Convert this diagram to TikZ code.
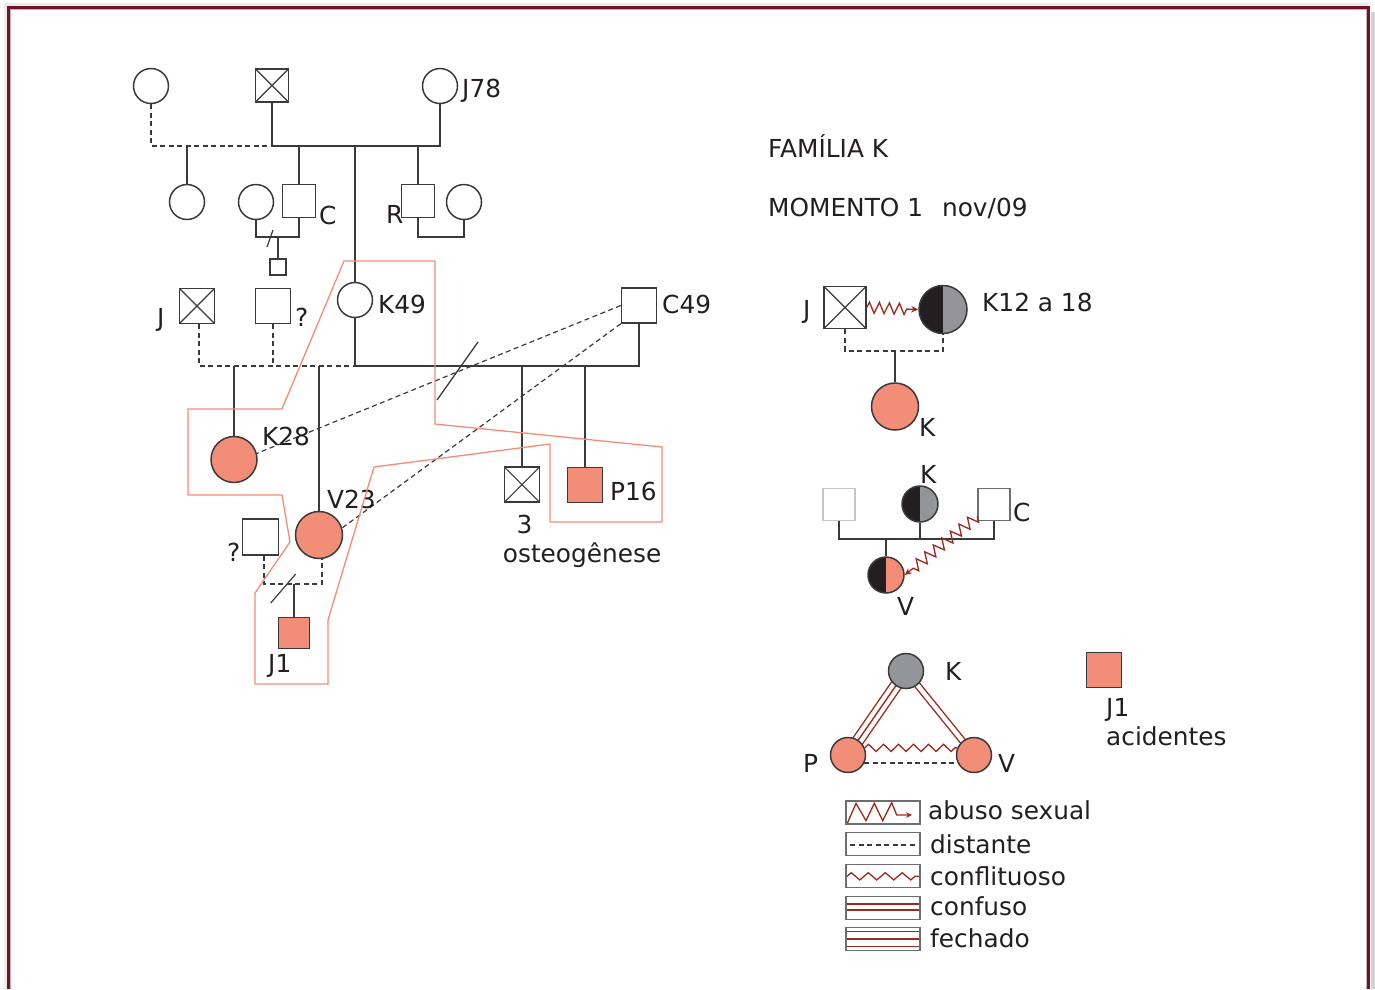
\documentclass[tikz,border=0pt]{standalone}
\usepackage{fontspec}
\setmainfont{DejaVu Sans}
\usetikzlibrary{decorations.pathmorphing,arrows.meta,calc}
\pgfdeclarelayer{bg}
\pgfsetlayers{bg,main}
\definecolor{lineg}{RGB}{58,58,60}
\definecolor{salmon}{RGB}{242,141,119}
\definecolor{salline}{RGB}{244,140,115}
\definecolor{dred}{RGB}{155,42,28}
\definecolor{kgray}{RGB}{147,149,152}
\definecolor{kblack}{RGB}{35,31,32}
\definecolor{framec}{RGB}{112,18,40}
\definecolor{boxg}{RGB}{109,110,113}
\begin{document}
\begin{tikzpicture}[x=1pt,y=-1pt,
  every node/.style={font=\fontsize{24.8}{29}\selectfont},
  gl/.style={draw=lineg, line width=1.6pt},
  dsh/.style={dash pattern=on 5pt off 3.5pt},
  fem/.style={circle, draw=lineg, line width=1.5pt, fill=white, inner sep=0pt, minimum size=#1},
  fem/.default=35pt,
  mal/.style={rectangle, draw=lineg, line width=1.5pt, fill=white, inner sep=0pt, minimum size=#1},
  mal/.default=35pt,
  aff/.style={fill=salmon},
  xmark/.style={path picture={\draw[lineg, line width=1.1pt] (path picture bounding box.north west) -- (path picture bounding box.south east) (path picture bounding box.north east) -- (path picture bounding box.south west);}},
  halfk/.style={fill=kgray, path picture={\fill[kblack] (path picture bounding box.north west) rectangle (path picture bounding box.south);}},
  halfv/.style={fill=salmon, path picture={\fill[kblack] (path picture bounding box.north west) rectangle (path picture bounding box.south);}},
  lab/.style={anchor=base west, inner sep=0pt, text=kblack},
  abuse/.style={draw=dred, line width=1.3pt, decorate, decoration={zigzag, segment length=#1, amplitude=5.5pt, post length=8pt}, -{Stealth[length=7pt, width=6.5pt]}},
  conf/.style={draw=dred, line width=1.3pt, decorate, decoration={zigzag, segment length=#1, amplitude=3.6pt}},
  legbox/.style={draw=boxg, line width=1.4pt, minimum width=74pt, minimum height=23pt, inner sep=0pt}
]
\useasboundingbox (0,0) rectangle (1375,989);
% frame
\draw[gray!35, line width=4pt] (1372.5,12) -- (1372.5,989);
\draw[gray!15, line width=3pt] (5,989) -- (5,4) -- (1368,4);
\draw[framec, line width=3pt] (8.7,989) -- (8.7,7.7) -- (1368.3,7.7) -- (1368.3,989);
\draw[framec!35, line width=0.8pt] (10.8,989) -- (10.8,9.8) -- (1366.2,9.8) -- (1366.2,989);

% ---------- generation 1
\node[fem] (a1) at (151,86) {};
\node[mal=33pt, xmark] (a2) at (272,85.5) {};
\node[fem] (j78) at (440,86) {};
\node[lab] (lj78) at (462,97) {J78};
\coordinate (g1) at (0,146);
\draw[gl] (a2.south) -- (a2.south |- g1) -| (j78.south);
\draw[gl, dsh] (a1.south) |- (a2.south |- g1);

% ---------- generation 2
\node[fem] (b1) at (187,202) {};
\node[fem] (b2) at (256,202) {};
\node[mal=33pt] (cc) at (299,201) {};
\node[lab] (lc) at (319,224) {C};
\node[mal=33pt] (rr) at (418,201) {};
\node[lab] (lr) at (386,223) {R};
\node[fem] (b3) at (464,202) {};
\node[fem] (k49) at (355,300) {};
\node[lab] (lk49) at (378,313) {K49};
\draw[gl] (b1.north) -- (b1.north |- g1);
\draw[gl] (cc.north) -- (cc.north |- g1);
\draw[gl] (rr.north) -- (rr.north |- g1);
\draw[gl] (k49.north) -- (k49.north |- g1);
\coordinate (g2) at (0,237);
\draw[gl] (b2.south) |- (cc.south |- g2) -- (cc.south);
\draw[gl] (rr.south) |- (b3.south |- g2) -- (b3.south);
\node[mal=16pt] (cch) at (278,267) {};
\draw[gl] (cch.north) -- (cch.north |- g2);
\coordinate (s1a) at (267,247);
\coordinate (s1b) at (273,230);
\draw[gl, line width=1.2pt] (s1a) -- (s1b);

% ---------- generation 3
\node[mal, xmark] (jm) at (197,306) {};
\node[lab] (ljm) at (157,326) {J};
\node[mal] (qm) at (273,306) {};
\node[lab] (lqm) at (295,326) {?};
\node[mal] (c49) at (639,305.5) {};
\node[lab] (lc49) at (662,313) {C49};
\coordinate (g3) at (0,366);
\draw[gl, dsh] ([xshift=2pt]jm.south) |- (k49.south |- g3);
\draw[gl, dsh] (qm.south) -- (qm.south |- g3);
\draw[gl] (k49.south) -- (k49.south |- g3) -| (c49.south);
\coordinate (s2a) at (437,400);
\coordinate (s2b) at (478,342);
\draw[gl, line width=1.3pt] (s2a) -- (s2b);

% ---------- generation 4
\node[fem=46pt, aff] (k28) at (234,459.5) {};
\node[fem=47pt, aff] (v23) at (319,535) {};
\node[mal, xmark] (s3) at (522,484.7) {};
\node[lab, anchor=base] (l3) at (524.5,533) {3};
\node[lab] (lost) at (502.7,562) {osteogênese};
\node[mal, aff] (p16) at (585,485) {};
\node[lab] (lp16) at (610,500) {P16};
\draw[gl] (k28.north) -- (k28.north |- g3);
\draw[gl] (v23.north) -- (v23.north |- g3);
\draw[gl] (s3.north) -- (s3.north |- g3);
\draw[gl] (p16.north) -- (p16.north |- g3);
\draw[gl, dsh, line width=1.2pt] (c49.west) -- (k28.15);
\draw[gl, dsh, line width=1.2pt] (c49.south west) -- (v23.17);
\node[lab] (lk28) at (262,445) {K28};
\node[lab] (lv23) at (327,508) {V23};

\node[mal=36pt] (q2) at (260.5,537) {};
\node[lab] (lq2) at (227,561) {?};
\coordinate (g4) at (0,584);
\draw[gl, dsh] ([xshift=3.5pt]q2.south) |- ([xshift=3pt]v23.south |- g4) -- ([xshift=3pt]v23.south);
\node[mal=31pt, aff] (j1) at (294,633) {};
\node[lab] (lj1) at (268,672) {J1};
\draw[gl] (j1.north) -- (j1.north |- g4);
\coordinate (s3a) at (270.7,603);
\coordinate (s3b) at (295.7,574);
\draw[gl, line width=1.2pt] (s3a) -- (s3b);

% salmon enclosure
\draw[salline, line width=1.3pt] (344,261) -- (435,261) -- (435,424) -- (662,447) -- (662,522) -- (550,522) -- (550,444) -- (374,467) -- (328,620) -- (328,684) -- (255,684) -- (255,593) -- (290,542) -- (282,495) -- (188,495) -- (188,409) -- (282,409) -- cycle;

% ---------- right side titles
\node[lab] (lfam) at (768,157) {FAMÍLIA K};
\node[lab] (lmom) at (768,216) {MOMENTO 1\hspace{19pt}nov/09};

% ---------- diagram 2
\node[mal=42pt, xmark] (jj) at (845,307.5) {};
\node[lab] (ljj) at (803,318) {J};
\node[fem=48pt, halfk] (k12) at (943,309.5) {};
\node[lab] (lk12) at (982,311) {K12 a 18};
\draw[abuse=10pt] (jj.east) -- (k12.west);
\coordinate (d2) at (0,351);
\draw[gl, dsh] (jj.south) |- (k12.south |- d2) -- (k12.south);
\node[fem=47pt, aff] (kk) at (895,406.5) {};
\node[lab] (lkk) at (919,436) {K};
\draw[gl] (kk.north) -- (kk.north |- d2);

% ---------- diagram 3
\node[mal=32pt, draw=gray!45] (gsq) at (839,504.5) {};
\node[fem=36pt, halfk] (k3) at (920,504) {};
\node[lab] (lk3) at (920,483) {K};
\node[mal=32pt, draw=boxg] (csq) at (994,504.5) {};
\node[lab] (lcsq) at (1013,521) {C};
\coordinate (d3) at (0,539);
\draw[gl] (gsq.south) |- (csq.south |- d3) -- (csq.south);
\draw[gl] (k3.south) -- (k3.south |- d3);
\node[fem=36pt, halfv] (v3) at (886,575) {};
\draw[gl] (v3.north) -- (v3.north |- d3);
\node[lab] (lv3) at (897,615) {V};
\draw[abuse=11pt] ([yshift=5pt]csq.south west) -- (v3.east);

% ---------- diagram 4
\node[fem, fill=kgray] (k4) at (906,671) {};
\node[lab] (lk4) at (945,680) {K};
\node[fem, aff] (p4) at (848,755) {};
\node[lab] (lp4) at (803,772) {P};
\node[fem, aff] (v4) at (974,755) {};
\node[lab] (lv4) at (998,772) {V};
\begin{pgfonlayer}{bg}
\draw[dred, line width=12.6pt] (k4.center) -- (p4.center);
\draw[white, line width=9.8pt] (k4.center) -- (p4.center);
\draw[dred, line width=1.4pt] (k4.center) -- (p4.center);
\draw[dred, line width=7.2pt] (k4.center) -- (v4.center);
\draw[white, line width=4.4pt] (k4.center) -- (v4.center);
\end{pgfonlayer}
\draw[conf=15pt] (p4.23) -- (v4.157);
\draw[gl, dsh, line width=1.2pt] (p4.-26) -- (v4.-154);

\node[mal, aff] (j1b) at (1104,670) {};
\node[lab] (lj1b) at (1106,716) {J1};
\node[lab] (lacc) at (1106,745) {acidentes};

% ---------- legend
\node[legbox] (lg1) at (883,812.5) {};
\node[legbox] (lg2) at (883,844.2) {};
\node[legbox] (lg3) at (883,875.7) {};
\node[legbox] (lg4) at (883,907.7) {};
\node[legbox] (lg5) at (883,938.8) {};
\begin{pgfonlayer}{bg}
\draw[dred, line width=1.3pt, -{Stealth[length=6pt, width=5.5pt]}] (847.3,823.3) -- (856,803.3) -- (866,820.7) -- (874.3,803.3) -- (882.7,820.7) -- (891.7,802.7) -- (896.7,815) -- (912,815);
\draw[gl, dsh, line width=1.1pt] (850,845) -- (917,845);
\draw[conf=17pt] (847,876.3) -- (919,876.3);
\draw[dred, line width=1.3pt] (846,904) -- (920,904) (846,910) -- (920,910);
\draw[dred, line width=1.3pt] (846,931.7) -- (920,931.7) (846,939) -- (920,939) (846,946.7) -- (920,946.7);
\end{pgfonlayer}
\node[lab] (tl1) at (928,819) {abuso sexual};
\node[lab] (tl2) at (930,853) {distante};
\node[lab] (tl3) at (930,885) {conflituoso};
\node[lab] (tl4) at (930,915) {confuso};
\node[lab] (tl5) at (930,947) {fechado};
\end{tikzpicture}
\end{document}
